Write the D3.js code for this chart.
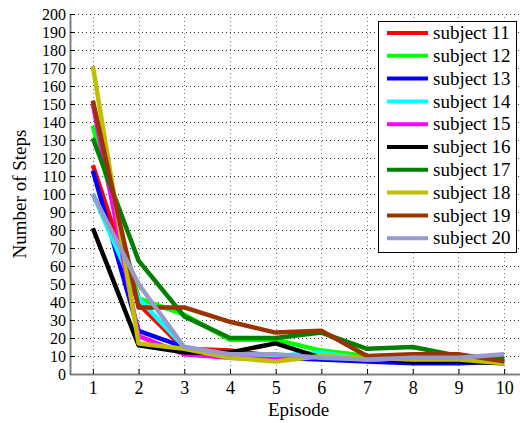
<!DOCTYPE html>
<html>
<head>
<meta charset="utf-8">
<script src="https://cdn.jsdelivr.net/npm/d3@7"></script>
<style>
  body { margin: 0; background: #fff; }
</style>
</head>
<body>
<div class="chart"></div>
<script>
var svgWidth = 520;
var svgHeight = 423;

// plot box (the right side runs off the canvas, like the original figure)
var margin = { top: 14, left: 70, bottom: 49 };
var plotRight = 527;
var serif = '"Liberation Serif", "Times New Roman", Tinos, "DejaVu Serif", "Noto Serif", FreeSerif, serif';

var episodes = [1, 2, 3, 4, 5, 6, 7, 8, 9, 10];
var yTicks = d3.range(0, 201, 10);

var subjects = ["subject 11", "subject 12", "subject 13", "subject 14", "subject 15",
  "subject 16", "subject 17", "subject 18", "subject 19", "subject 20"];
var colors = ["#ff0000", "#00ff00", "#0000ff", "#00ffff", "#ff00ff",
  "#000000", "#008000", "#bfbf00", "#993300", "#9999cc"];

var s11 = [116, 39, 14, 13, 10, 9, 8, 8, 7, 8];
var s12 = [138, 42, 33, 19, 19, 13, 10, 9, 10, 8];
var s13 = [113, 24, 15, 10, 9, 8, 7, 6, 6, 7];
var s14 = [100, 42, 15, 10, 10, 12, 8, 8, 7, 8];
var s15 = [150, 21, 11, 9, 8, 10, 8, 8, 8, 8];
var s16 = [81, 16, 12, 12, 17, 9, 9, 7, 7, 6];
var s17 = [131, 63, 32, 20, 20, 23, 14, 15, 10, 9];
var s18 = [171, 17, 14, 9, 7, 10, 9, 8, 8, 6];
var s19 = [152, 37, 37, 29, 23, 24, 10, 11, 11, 7];
var s20 = [100, 50, 15, 11, 11, 9, 8, 9, 9, 11];
var series = [s11, s12, s13, s14, s15, s16, s17, s18, s19, s20];

var svg = d3.select(".chart")
  .append("svg")
  .attr("width", svgWidth)
  .attr("height", svgHeight)
  .attr("font-family", serif)
  .style("font-family", serif);

var x = d3.scaleLinear().domain([0.5, 10.5]).range([margin.left, plotRight]);
var y = d3.scaleLinear().domain([0, 200]).range([svgHeight - margin.bottom, margin.top]);

// dotted grid
var grid = svg.append("g")
  .attr("stroke", "#333")
  .attr("stroke-width", 1)
  .attr("stroke-dasharray", "1,3");

grid.selectAll(".hgrid")
  .data(yTicks.slice(1))
  .enter()
  .append("line")
  .attr("x1", x(0.5)).attr("x2", x(10.5))
  .attr("y1", d => y(d) + 0.5).attr("y2", d => y(d) + 0.5);

grid.selectAll(".vgrid")
  .data(episodes)
  .enter()
  .append("line")
  .attr("x1", d => Math.round(x(d)) + 0.5).attr("x2", d => Math.round(x(d)) + 0.5)
  .attr("y1", y(0)).attr("y2", y(200))
  .attr("stroke", "#777");

// lines
var line = d3.line()
  .x((d, i) => x(episodes[i]))
  .y(d => y(d));

svg.append("g")
  .selectAll("path")
  .data(series)
  .enter()
  .append("path")
  .attr("d", line)
  .attr("fill", "none")
  .attr("stroke", (d, i) => colors[i])
  .attr("stroke-width", 4.5)
  .attr("stroke-linejoin", "round");

// axes
var leftAxis = d3.axisLeft(y).tickValues(yTicks).tickSizeInner(-5).tickSizeOuter(0).tickPadding(4);
var bottomAxis = d3.axisBottom(x).tickValues(episodes).tickSizeInner(-5).tickSizeOuter(0).tickPadding(7);

var yAxis = svg.append("g")
  .attr("transform", `translate(${margin.left}, 0)`)
  .call(leftAxis);

var xAxis = svg.append("g")
  .attr("transform", `translate(0, ${y(0)})`)
  .call(bottomAxis);

yAxis.selectAll(".tick text").style("font-size", "16px");
xAxis.selectAll(".tick text").style("font-size", "18px");

[yAxis, xAxis].forEach(function (ax) {
  ax.attr("font-family", serif);
  ax.select(".domain").attr("stroke", "#808080").attr("stroke-width", 2);
  ax.selectAll(".tick line").attr("stroke", "#000");
  ax.selectAll(".tick text")
    .attr("font-family", serif)
    .style("font-family", serif)
    .attr("fill", "#000");
});

// axis labels
svg.append("text")
  .attr("x", (x(0.5) + x(10.5)) / 2)
  .attr("y", 416)
  .attr("text-anchor", "middle")
  .style("font-size", "19px")
  .text("Episode");

svg.append("text")
  .attr("transform", `translate(26, ${(y(0) + y(200)) / 2}) rotate(-90)`)
  .attr("text-anchor", "middle")
  .style("font-size", "19px")
  .text("Number of Steps");

// legend
var legend = svg.append("g");
legend.append("rect")
  .attr("x", 378.5).attr("y", 21.5)
  .attr("width", 138).attr("height", 231)
  .attr("fill", "#fff")
  .attr("stroke", "#000")
  .attr("stroke-width", 1);

var rows = legend.selectAll(".row")
  .data(subjects)
  .enter()
  .append("g")
  .attr("transform", (d, i) => `translate(0, ${33 + i * 22.8})`);

rows.append("line")
  .attr("x1", 387).attr("x2", 428)
  .attr("y1", 0).attr("y2", 0)
  .attr("stroke", (d, i) => colors[i])
  .attr("stroke-width", 4);

rows.append("text")
  .attr("x", 433)
  .attr("y", 0)
  .attr("dy", "0.33em")
  .style("font-size", "19px")
  .text(d => d);
</script>
</body>
</html>
